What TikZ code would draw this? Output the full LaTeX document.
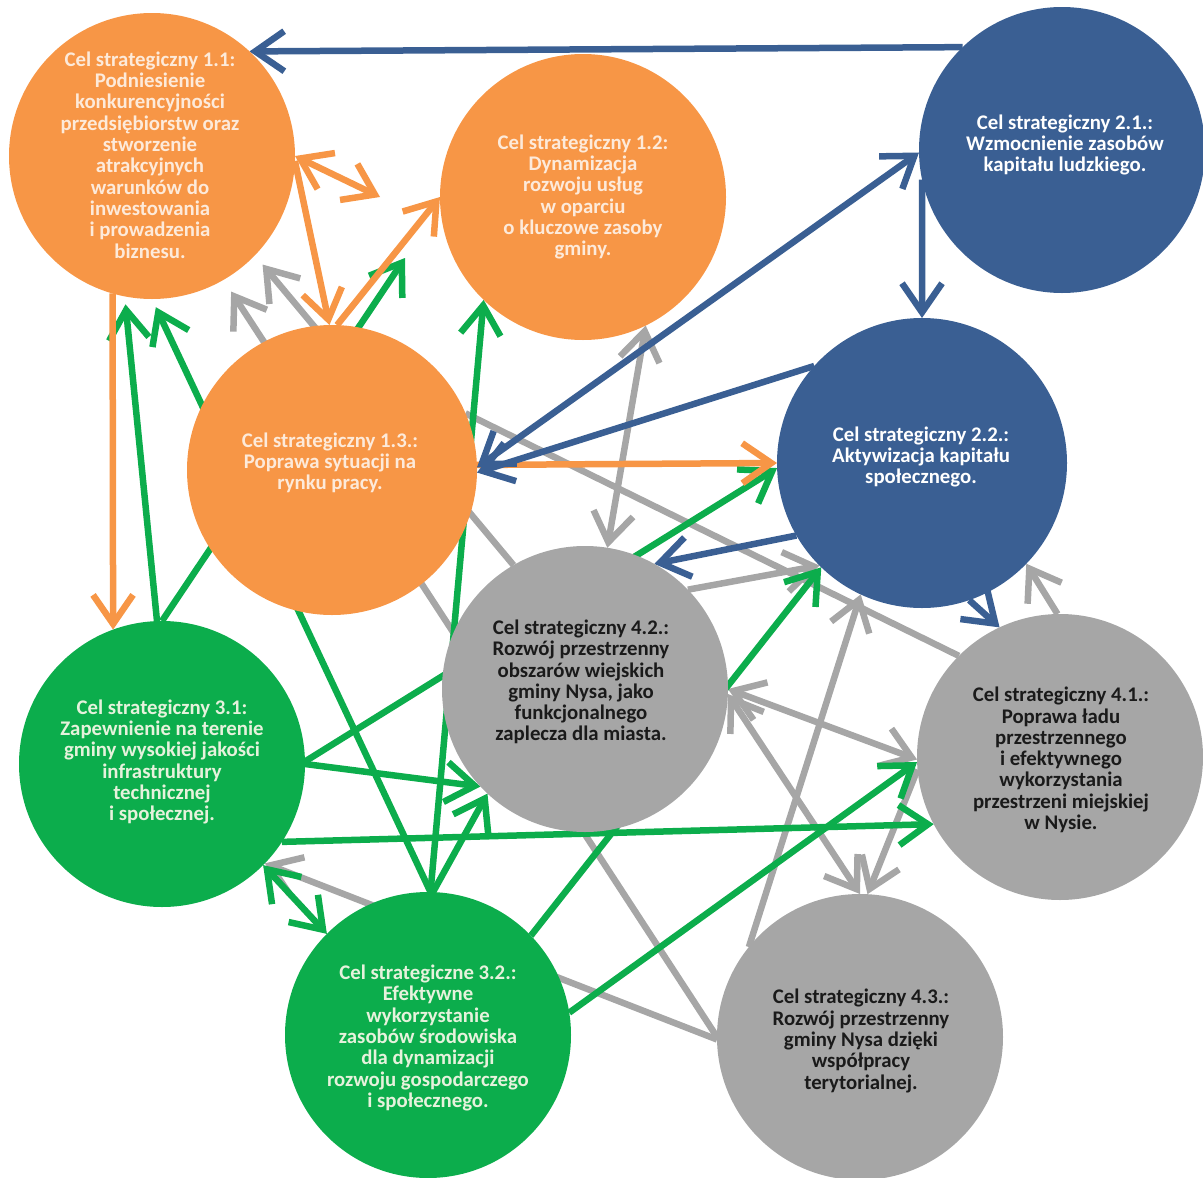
\documentclass[tikz,border=0pt]{standalone}
\usepackage{fontspec}
\setmainfont{Carlito}
\usetikzlibrary{arrows.meta,calc}
\pgfdeclarelayer{bg}
\pgfsetlayers{bg,main}
\definecolor{cor}{HTML}{F79646}
\definecolor{cbl}{HTML}{3A5F93}
\definecolor{cgr}{HTML}{0CAD4C}
\definecolor{cgy}{HTML}{A6A6A6}
\definecolor{tor}{HTML}{FDEADA}
\definecolor{tgr}{HTML}{E6F2DC}
\definecolor{tgy}{HTML}{1A1A1A}
\begin{document}
\begin{tikzpicture}[x=1pt,y=-1pt,
  goal/.style={circle,inner sep=0pt,outer sep=0pt,minimum size=286pt},
  biggoal/.style={goal,minimum size=290pt},
  txt/.style={align=center,inner sep=0pt,font=\fontsize{20.8}{21.3}\selectfont\bfseries},
  conn/.style={line width=6.5pt,>={Straight Barb[length=29pt,width=40pt]}},
  bl/.style={conn,draw=cbl},
  orl/.style={conn,draw=cor},
  grl/.style={conn,draw=cgr},
  gyl/.style={conn,draw=cgy}]
\useasboundingbox (0,0) rectangle (1203,1178);
% circles
\node[goal,fill=cor] (c11) at (152,156) {};
\node[goal,fill=cor] (c12) at (583,197) {};
\node[goal,fill=cbl] (c21) at (1062,150) {};
\node[biggoal,fill=cor] (c13) at (332,470) {};
\node[biggoal,fill=cbl] (c22) at (922,463) {};
\node[goal,fill=cgy] (c42) at (585,689) {};
\node[goal,fill=cgr] (c31) at (162,764) {};
\node[goal,fill=cgy] (c41) at (1060,757) {};
\node[goal,fill=cgr] (c32) at (428,1035) {};
\node[goal,fill=cgy] (c43) at (860,1037) {};
% texts
\node[txt,text=tor] (t11) at (150,155) {Cel strategiczny 1.1:\\Podniesienie\\konkurencyjności\\przedsiębiorstw oraz\\stworzenie\\atrakcyjnych\\warunków do\\inwestowania\\i prowadzenia\\biznesu.};
\node[txt,text=tor] (t12) at (583,197) {Cel strategiczny 1.2:\\Dynamizacja\\rozwoju usług\\w oparciu\\o kluczowe zasoby\\gminy.};
\node[txt,text=white] (t21) at (1065,145) {Cel strategiczny 2.1.:\\Wzmocnienie zasobów\\kapitału ludzkiego.};
\node[txt,text=tor] (t13) at (330,463) {Cel strategiczny 1.3.:\\Poprawa sytuacji na\\rynku pracy.};
\node[txt,text=white] (t22) at (921,457) {Cel strategiczny 2.2.:\\Aktywizacja kapitału\\społecznego.};
\node[txt,text=tgy] (t42) at (581,682) {Cel strategiczny 4.2.:\\Rozwój przestrzenny\\obszarów wiejskich\\gminy Nysa, jako\\funkcjonalnego\\zaplecza dla miasta.};
\node[txt,text=tgr] (t31) at (162,762) {Cel strategiczny 3.1:\\Zapewnienie na terenie\\gminy wysokiej jakości\\infrastruktury\\technicznej\\i społecznej.};
\node[txt,text=tgy] (t41) at (1061,760) {Cel strategiczny 4.1.:\\Poprawa ładu\\przestrzennego\\i efektywnego\\wykorzystania\\przestrzeni miejskiej\\w Nysie.};
\node[txt,text=tgr] (t32) at (428,1038) {Cel strategiczne 3.2.:\\Efektywne\\wykorzystanie\\zasobów środowiska\\dla dynamizacji\\rozwoju gospodarczego\\i społecznego.};
\node[txt,text=tgy] (t43) at (861,1041) {Cel strategiczny 4.3.:\\Rozwój przestrzenny\\gminy Nysa dzięki\\współpracy\\terytorialnej.};
\coordinate (o12end) at ($(c12)+(-203,0)$);
\coordinate (g12end) at ($(c12)+(-178,61)$);
\begin{pgfonlayer}{bg}
% grey
\draw[gyl,->,shorten >=14pt] (c43.180) -- (c11.-60);
\draw[gyl,->,shorten >=12pt] (c42.120) -- (c11.-44);
\draw[gyl,<->] (c12.-64) -- (c42.81);
\draw[gyl,->] (c42.44) -- (c22.-135);
\draw[gyl,->] (c43.141) -- (c22.-115);
\draw[gyl,->] (c41.91) -- (c22.-44);
\draw[gyl,<->] (c42.0) -- (c41.181);
\draw[gyl,<->] (c42.-2) -- (c43.90);
\draw[gyl,->] (c41.185) -- (c43.87);
\draw[gyl,->] (c43.181) -- (c31.-44);
\draw[gyl] (c13.23) -- (c41.135);
% green
\draw[grl,->,shorten >=8pt] (c31.92) -- (c11.-101);
\draw[grl,->,shorten >=9pt] (c32.89) -- (c11.-90);
\draw[grl,->] (c31.90) -- (g12end);
\draw[grl,->] (c32.89) -- (c12.-134);
\draw[grl,->] (c32.88) -- (c42.-133);
\draw[grl,->] (c31.0) -- (c42.-137);
\draw[grl,->] (c31.1) -- (c22.182);
\draw[grl,->] (c31.-33) -- (c41.-152);
\draw[grl,<->] (c31.-45) -- (c32.135);
\draw[grl,->] (c32.9) -- (c41.182);
\draw[grl,->] (c32.44) -- (c22.-134);
% orange
\draw[orl,->] (c11.-106) -- (c31.110);
\draw[orl,->] (c13.2) -- (c22.180);
\draw[orl,->] (c11.-2) -- (c13.91);
\draw[orl,<->] (c11.0) -- (o12end);
\draw[orl,->] (c13.88) -- (c12.180);
% blue
\draw[bl,->] (c21.134) -- (c11.47);
\draw[bl,->] (c21.192) -- (c22.90);
\draw[bl,<->] (c13.1) -- (c21.181);
\draw[bl,->] (c22.138) -- (c13.-1);
\draw[bl,->] (c22.210) -- (c42.61);
\draw[bl,->] (c22.-71) -- (c41.115);
\end{pgfonlayer}
\end{tikzpicture}
\end{document}
